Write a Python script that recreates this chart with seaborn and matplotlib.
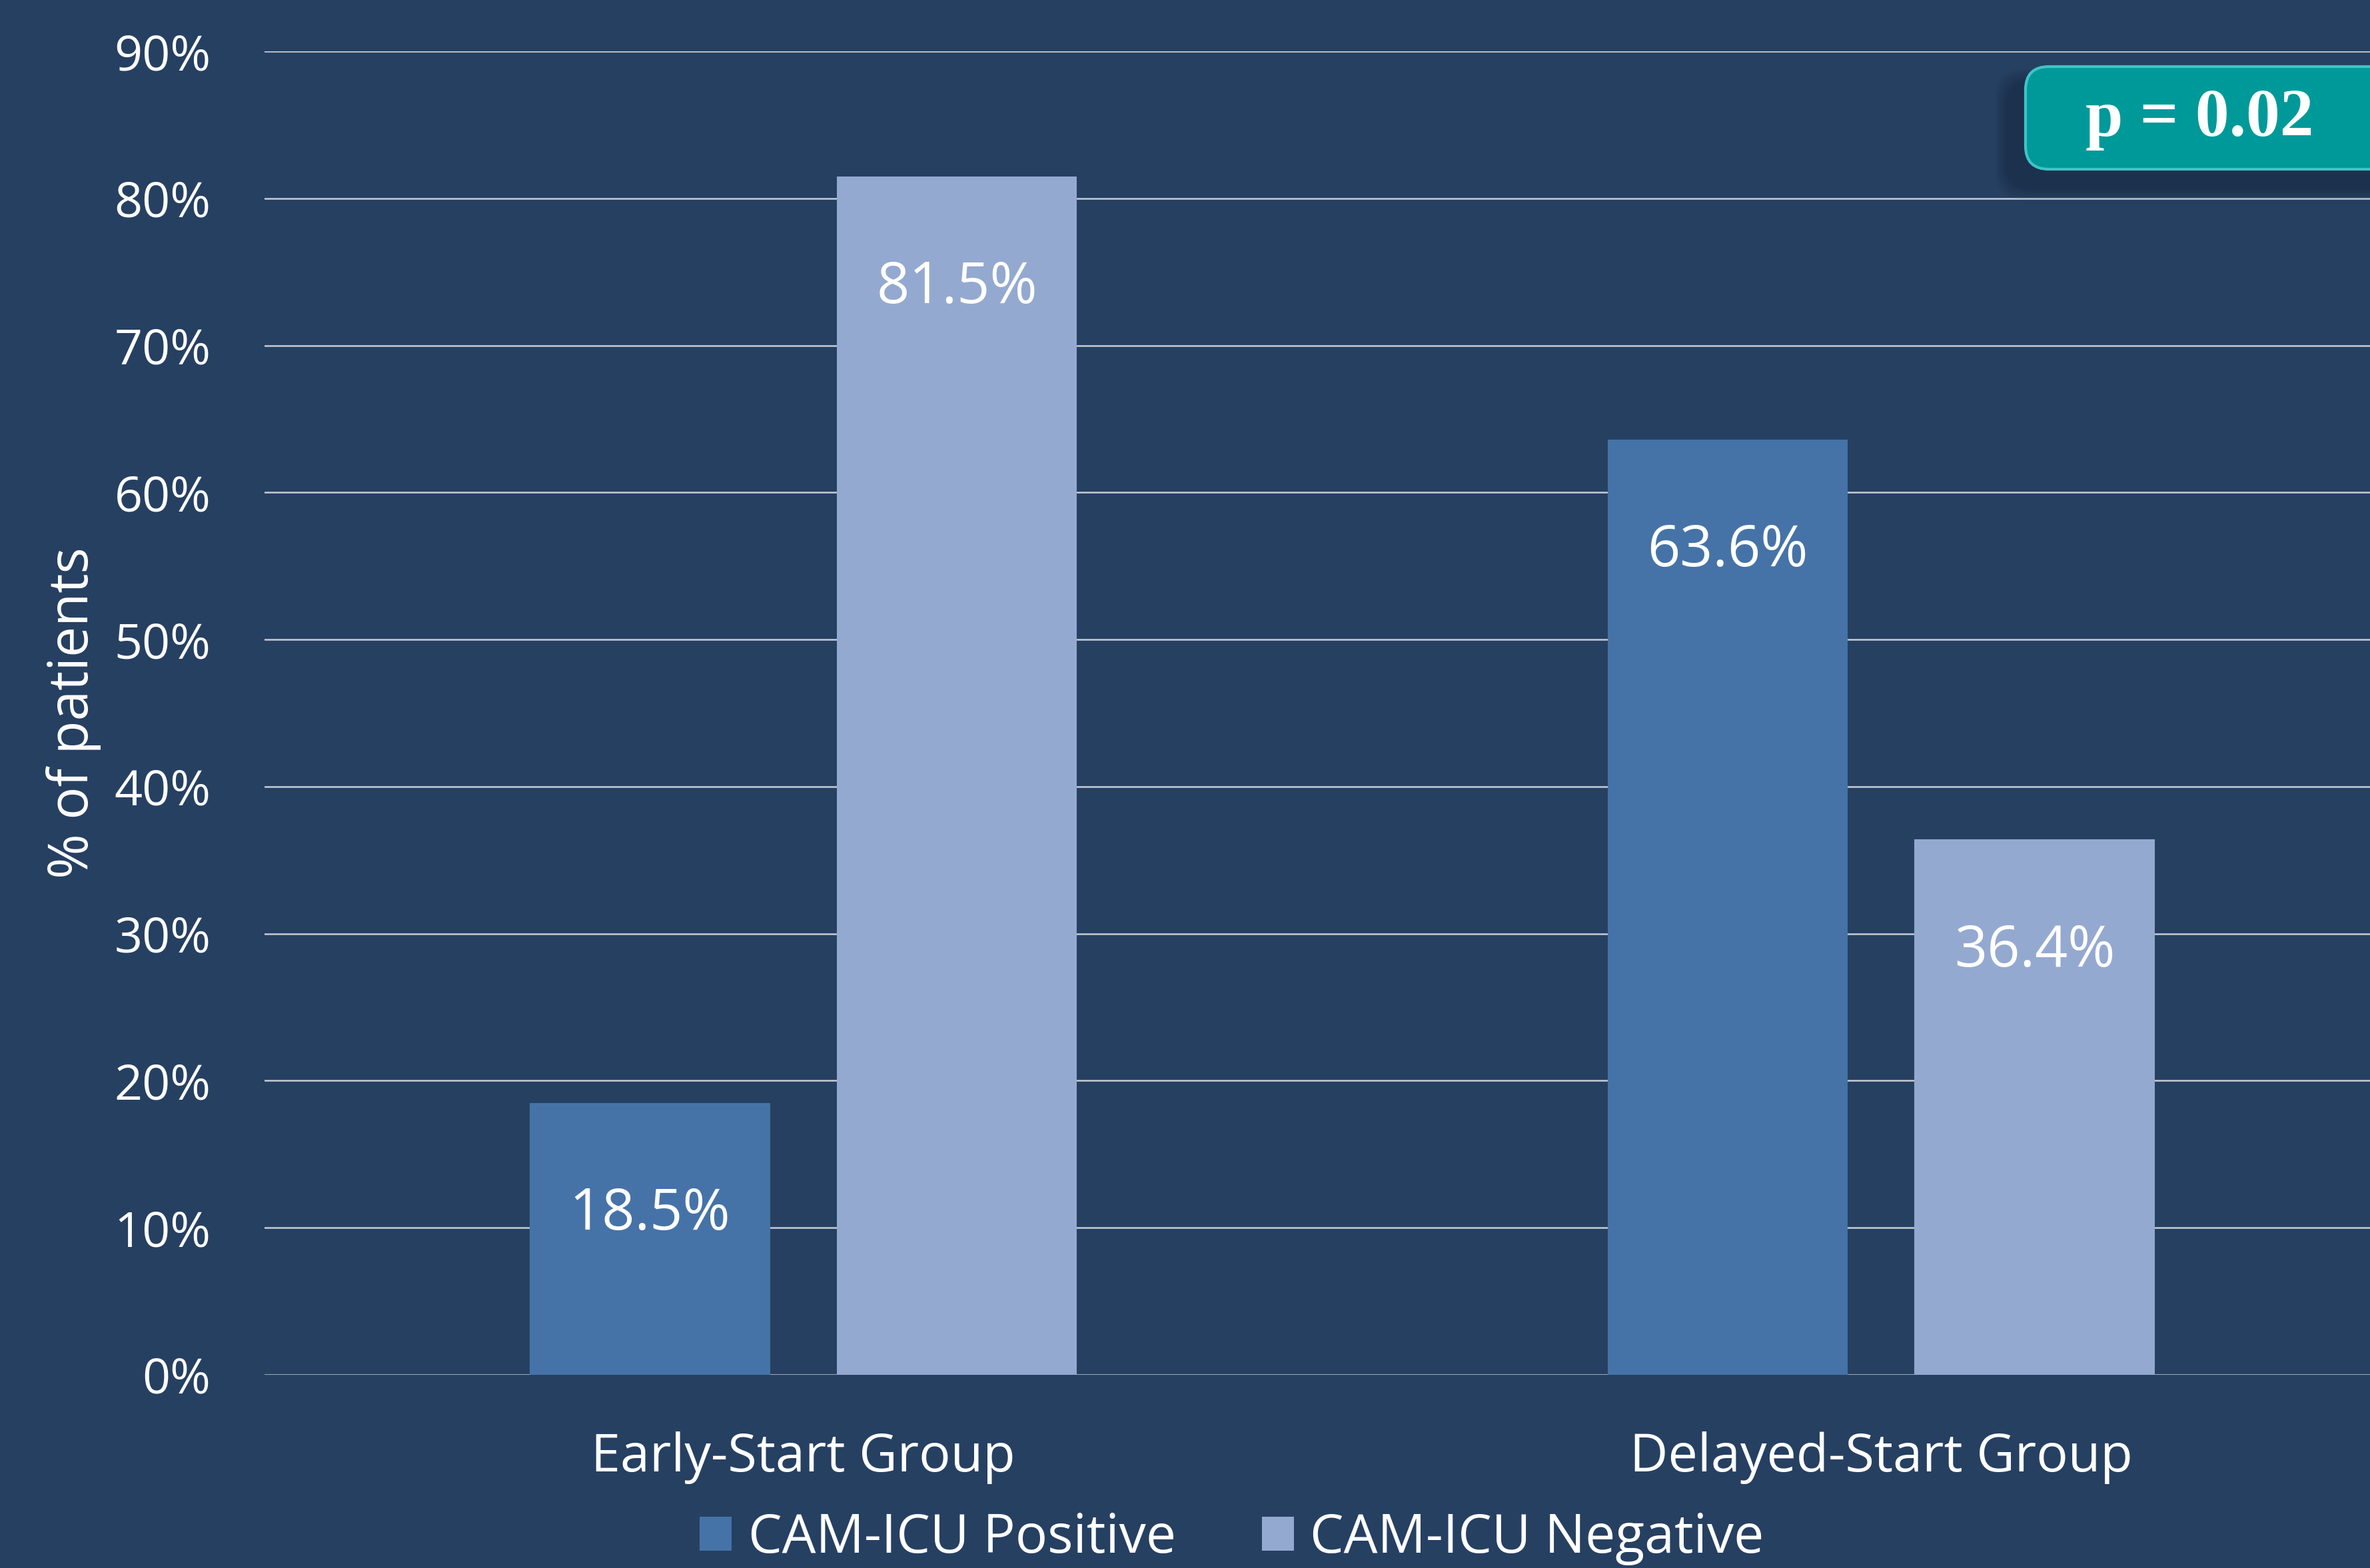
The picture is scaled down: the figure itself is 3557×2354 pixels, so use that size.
import matplotlib
matplotlib.use("Agg")
import matplotlib.pyplot as plt
from matplotlib.patches import FancyBboxPatch, Patch
import seaborn as sns
import pandas as pd

groups = ["Early-Start Group", "Delayed-Start Group"]
results = ["CAM-ICU Positive", "CAM-ICU Negative"]
positive = [18.5, 63.6]
negative = [81.5, 36.4]
yticks = [0, 10, 20, 30, 40, 50, 60, 70, 80, 90]
p_text = "p = 0.02"

BG = "#264062"
C_POS = "#4673A7"
C_NEG = "#94A9D0"

df = pd.DataFrame({
    "group": groups * 2,
    "result": [results[0]] * 2 + [results[1]] * 2,
    "value": positive + negative,
})

sns.set_theme(style="white")
plt.rcParams["font.family"] = ["Open Sans", "DejaVu Sans"]

W, H = 3557, 2354
fig = plt.figure(figsize=(W / 100, H / 100), dpi=100)
fig.patch.set_facecolor(BG)

ax = fig.add_axes([397 / W, 1 - 2064 / H, (3632 - 397) / W, (2064 - 77) / H])
ax.set_facecolor(BG)

sns.barplot(data=df, x="group", y="value", hue="result", order=groups,
            hue_order=results, palette=[C_POS, C_NEG], width=0.57, gap=0.218,
            saturation=1, ax=ax, legend=False, zorder=3,
            edgecolor="none", linewidth=0)

ax.set_xlim(-0.5, 1.5)
ax.set_ylim(0, 90)
ax.set_yticks(yticks)
ax.set_yticklabels([f"{t}%" for t in yticks], fontsize=53, color="white")
ax.tick_params(axis="y", length=0, pad=58)
ax.tick_params(axis="x", length=0, pad=61, labelsize=57, labelcolor="white")
ax.set_xlabel("")
ax.set_ylabel("")
for s in ax.spines.values():
    s.set_visible(False)
ax.yaxis.grid(True, color="#C8CCD4", linewidth=1.8, zorder=0)
ax.set_axisbelow(True)

for bar in ax.patches:
    h = bar.get_height()
    if h <= 0:
        continue
    ax.annotate(f"{h:.1f}%", (bar.get_x() + bar.get_width() / 2, h),
                xytext=(0, -168), textcoords="offset pixels",
                ha="center", va="center", fontsize=62, color="white", zorder=5)

fig.text(0.031, 1 - 472 / 1038, "% of patients", rotation=90, ha="center",
         va="center", fontsize=59, color="white")

handles = [Patch(facecolor=C_POS, edgecolor="none"), Patch(facecolor=C_NEG, edgecolor="none")]
fig.legend(handles, results, loc="center", bbox_to_anchor=(815 / 1568, 0.019),
           ncol=2, frameon=False, fontsize=58, labelcolor="white",
           handlelength=0.6, handleheight=0.6, handletextpad=0.3,
           columnspacing=1.6, borderpad=0)

# p-value badge in pixel coordinates
ov = fig.add_axes([0, 0, 1, 1], zorder=10)
ov.set_xlim(0, W)
ov.set_ylim(H, 0)
ov.axis("off")
ov.patch.set_alpha(0)
x0, y0, bw, bh = 3040, 100, 600, 154
for i, a in enumerate([0.06, 0.06, 0.07, 0.08, 0.1]):
    d = 40 - i * 7
    ov.add_patch(FancyBboxPatch((x0 - 25 - d / 2, y0 + 25 - d / 2), bw + d, bh + d,
                                boxstyle="round,pad=0,rounding_size=42",
                                facecolor="#101a2a", edgecolor="none", alpha=a))
ov.add_patch(FancyBboxPatch((x0, y0), bw, bh, boxstyle="round,pad=0,rounding_size=35",
                            facecolor="#009999", edgecolor="#3fc4c4", linewidth=3))
ov.text(3301, 180, p_text, ha="center", va="center", fontsize=73, color="white",
        fontweight="bold", family=["Liberation Serif", "DejaVu Serif"])

fig.savefig("out.png", dpi=100, facecolor=BG)
